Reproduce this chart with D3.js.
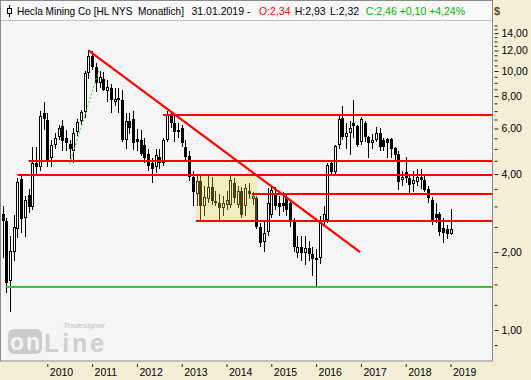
<!DOCTYPE html>
<html>
<head>
<meta charset="utf-8">
<script src="https://cdn.jsdelivr.net/npm/d3@7/dist/d3.min.js"></script>
<style>
  body { margin: 0; background: #f5eed6; }
  svg { display: block; font-family: "Liberation Sans", Arial, sans-serif; }
  .pre { white-space: pre; }
</style>
</head>
<body>
<svg id="chart" width="531" height="380"></svg>
<script>
// monthly candles, Jan 2009 .. Jan 2019 (index 0 = Jan 2009)
var opens = [2.80,2.64,1.54,2.00,2.45,3.83,2.71,3.32,2.98,4.42,4.25,6.90,
  6.45,4.60,5.20,5.57,6.13,5.50,5.22,4.90,5.83,6.40,6.95,9.80,
  11.45,10.40,9.00,9.30,8.40,8.60,7.60,7.90,7.70,5.42,6.40,6.50,
  5.45,5.42,5.18,4.80,4.40,4.27,4.67,4.40,5.42,6.76,6.28,5.90,
  6.03,5.10,4.68,3.90,3.35,3.75,3.00,3.20,3.55,3.15,3.10,2.95,
  3.04,3.04,3.70,3.05,3.45,3.00,3.45,3.20,3.22,2.50,2.19,2.39,
  2.78,3.35,3.10,3.08,3.26,3.09,2.66,1.98,2.10,1.98,2.07,1.96,
  1.90,1.89,2.64,2.65,4.42,4.09,5.20,6.60,5.57,5.75,6.30,6.13,
  5.33,6.28,5.55,5.28,5.42,5.74,5.40,5.45,5.45,5.03,4.80,3.79,
  4.09,3.85,3.65,3.74,3.88,3.81,3.49,3.19,2.80,2.80,2.47,2.45,
  2.34];
var highs = [3.00,2.70,2.31,2.78,3.85,3.95,3.28,3.50,5.10,5.10,7.00,7.60,
  6.90,5.40,5.75,6.20,6.45,5.90,5.40,6.00,6.50,7.10,10.00,12.00,
  11.95,10.70,10.00,9.90,9.20,8.90,8.60,8.60,8.45,6.90,6.90,7.00,
  5.95,5.90,5.50,5.00,4.60,5.00,5.00,5.50,7.00,7.00,6.70,6.30,
  6.20,5.40,4.90,4.10,3.93,3.93,3.60,3.93,3.90,3.45,3.35,3.30,
  3.45,3.93,3.85,3.60,3.55,3.65,3.70,3.40,3.30,2.60,2.66,3.52,
  3.60,3.55,3.30,3.40,3.35,3.15,2.70,2.30,2.30,2.30,2.20,2.10,
  2.05,2.75,3.00,4.40,4.50,5.20,6.70,7.33,6.30,6.40,7.72,6.20,
  6.65,6.40,5.60,5.70,6.10,6.00,5.50,5.50,5.50,5.10,4.90,4.10,
  4.67,3.95,4.10,4.20,4.20,3.95,3.60,3.25,3.10,2.85,2.70,2.55,
  2.93];
var lows = [1.90,1.39,1.17,1.85,2.26,2.37,2.28,2.83,2.90,3.95,4.10,5.90,
  4.27,4.27,5.00,5.40,4.92,4.90,4.57,4.40,5.60,6.20,6.60,9.30,
  10.10,8.30,8.60,8.40,7.60,6.90,7.30,6.90,5.30,5.00,5.70,4.96,
  4.90,4.70,4.40,4.10,3.70,4.05,4.20,4.30,5.30,6.00,5.30,5.50,
  5.10,4.50,3.75,3.00,3.00,2.65,2.75,3.10,3.05,3.00,2.66,2.75,
  2.90,2.95,3.10,2.95,2.70,2.75,3.20,3.05,2.45,2.10,2.00,2.30,
  2.70,2.90,2.75,2.85,2.75,2.50,2.00,1.90,1.85,1.78,1.85,1.62,
  1.45,1.80,2.55,2.60,3.95,3.95,5.00,5.40,5.00,4.75,5.50,5.10,
  5.20,5.30,4.60,5.00,5.30,4.90,4.90,4.60,4.60,4.50,3.47,3.60,
  3.70,3.37,3.40,3.60,3.50,3.40,3.10,2.55,2.60,2.30,2.17,2.25,
  2.32];
var closes = [2.64,1.52,2.01,2.50,3.73,2.69,3.18,2.98,4.42,4.25,6.68,6.50,
  4.55,5.20,5.50,6.00,5.38,5.25,4.98,5.74,6.35,6.95,9.80,11.45,
  10.40,9.00,9.50,8.45,8.70,7.70,7.80,7.70,5.42,6.40,6.05,5.27,
  5.30,4.80,4.60,4.30,4.20,4.74,4.40,5.42,6.76,6.28,5.83,5.83,
  5.27,4.67,3.90,3.42,3.75,3.00,3.27,3.55,3.15,3.10,2.95,3.08,
  3.19,3.79,3.23,3.45,2.78,3.52,3.35,3.29,2.50,2.17,2.37,3.08,
  3.47,3.02,2.98,3.02,2.90,2.66,2.10,2.09,1.98,2.07,1.96,1.88,
  1.86,2.58,2.80,4.33,4.09,5.13,6.50,5.57,5.74,6.00,6.13,5.20,
  6.50,5.57,5.28,5.42,5.78,5.08,5.08,5.28,4.98,4.73,3.74,3.88,
  3.85,3.63,3.80,3.88,3.78,3.47,3.22,2.66,2.70,2.40,2.37,2.35,
  2.46];

var years = [2010, 2011, 2012, 2013, 2014, 2015, 2016, 2017, 2018, 2019];
var priceTicks = [1, 2, 4, 6, 8, 10, 12, 14];
var minorTicks = [0.875, 1.25, 1.5, 1.75, 2.5, 3, 3.5, 4.5, 5, 5.5, 6.5, 7, 7.5,
  8.5, 9, 9.5, 10.5, 11, 11.5, 12.5, 13, 13.5, 14.5, 15];

// drawing tools (month index, price)
var resistLevels = [6.76, 4.51, 3.98, 3.36, 2.64];
var resistStart = [43, 7, 4, 66.8, 51.8];
var supportLevel = 1.47, supportStart = 1;
var downTrend = [[23.1, 11.98], [95.8, 2.0]];
var upTrend = [[18, 4.37], [25.9, 10.15]];
var rangeBox = {from: 51.8, to: 68.2, low: 2.64, high: 3.98};

var svg = d3.select("#chart");
var plotRight = 492.5, plotTop = 20.5, plotBottom = 361;

var x = d3.scaleLinear().domain([0, 120]).range([2.5, 450.5]);
var y = d3.scaleLog().domain([1, 10]).range([330, 71]);

var de = d3.formatLocale({decimal: ",", thousands: ".", grouping: [3], currency: ["", ""]});
var fmt = de.format(".2f");

// plot frame
svg.append("rect")
    .attr("x", 0.5).attr("y", 0.5)
    .attr("width", plotRight - 0.5).attr("height", plotBottom - 0.5)
    .attr("fill", "#f5f5f5").attr("stroke", "#8a8a8a");

svg.append("defs").append("clipPath").attr("id", "clip")
    .append("rect").attr("x", 1).attr("y", plotTop + 0.5)
    .attr("width", plotRight - 1).attr("height", plotBottom - plotTop - 1);

var g = svg.append("g").attr("clip-path", "url(#clip)");

// watermark
var wm = g.append("g");
wm.append("text").attr("x", 63).attr("y", 328)
    .attr("font-size", "8px").attr("font-style", "italic").attr("fill", "#c2c2c2")
    .text("Tradesignal");
wm.append("rect").attr("x", 8).attr("y", 329).attr("width", 34).attr("height", 25)
    .attr("rx", 6).attr("fill", "#cbcbcb");
wm.append("text").attr("x", 10).attr("y", 350).attr("textLength", 30)
    .attr("font-size", "23px").attr("font-weight", "bold").attr("fill", "#f3f3f3")
    .text("on");
wm.append("text").attr("x", 44).attr("y", 352).attr("textLength", 60)
    .attr("font-size", "25px").attr("font-weight", "bold").attr("fill", "#d0d0d0")
    .text("Line");

// candles
var idx = d3.range(closes.length);
function cx(i) { return Math.round(x(i)) + 0.5; }

g.append("g").selectAll("line")
    .data(idx).enter().append("line")
    .attr("x1", cx).attr("x2", cx)
    .attr("y1", function (i) { return Math.round(y(highs[i])); })
    .attr("y2", function (i) { return Math.round(y(lows[i])); })
    .attr("stroke", "#000").attr("stroke-width", 1);

g.append("g").selectAll("rect")
    .data(idx.filter(function (i) { return closes[i] < opens[i]; }))
    .enter().append("rect")
    .attr("x", function (i) { return cx(i) - 1.5; })
    .attr("y", function (i) { return Math.round(y(opens[i])); })
    .attr("width", 3)
    .attr("height", function (i) {
        return Math.max(1, Math.round(y(closes[i])) - Math.round(y(opens[i])));
    })
    .attr("fill", "#000");

g.append("g").selectAll("rect")
    .data(idx.filter(function (i) { return closes[i] >= opens[i]; }))
    .enter().append("rect")
    .attr("x", function (i) { return cx(i) - 1; })
    .attr("y", function (i) { return Math.round(y(closes[i])) + 0.5; })
    .attr("width", 2)
    .attr("height", function (i) {
        return Math.max(1, Math.round(y(opens[i])) - Math.round(y(closes[i])) - 1);
    })
    .attr("fill", "#fff").attr("stroke", "#000").attr("stroke-width", 1);

// consolidation box (drawn over candles, translucent)
g.append("rect")
    .attr("x", x(rangeBox.from))
    .attr("y", y(rangeBox.high))
    .attr("width", x(rangeBox.to) - x(rangeBox.from))
    .attr("height", y(rangeBox.low) - y(rangeBox.high))
    .attr("fill", "#f0dc3c").attr("fill-opacity", 0.3);

// horizontal levels
g.append("g").selectAll("line")
    .data(resistLevels).enter().append("line")
    .attr("x1", function (d, k) { return x(resistStart[k]); })
    .attr("x2", plotRight)
    .attr("y1", function (d) { return Math.round(y(d)); })
    .attr("y2", function (d) { return Math.round(y(d)); })
    .attr("stroke", "#ff0000").attr("stroke-width", 2);

g.append("line")
    .attr("x1", x(supportStart)).attr("x2", plotRight)
    .attr("y1", Math.round(y(supportLevel))).attr("y2", Math.round(y(supportLevel)))
    .attr("stroke", "#33cc33").attr("stroke-width", 2);

var trendLine = d3.line()
    .x(function (d) { return x(d[0]); })
    .y(function (d) { return y(d[1]); });

g.append("path").attr("d", trendLine(downTrend))
    .attr("fill", "none").attr("stroke", "#ff0000").attr("stroke-width", 2.2);

g.append("path").attr("d", trendLine(upTrend))
    .attr("fill", "none").attr("stroke", "#33cc33").attr("stroke-width", 1)
    .attr("stroke-dasharray", "2,2");

// title bar
svg.append("line").attr("x1", 0).attr("x2", plotRight)
    .attr("y1", plotTop).attr("y2", plotTop).attr("stroke", "#8a8a8a");
svg.append("rect").attr("x", 1).attr("y", 1).attr("width", plotRight - 1.5).attr("height", plotTop - 1)
    .attr("fill", "#f8f8f8");

var icon = svg.append("g").attr("stroke", "#000").attr("fill", "#fff");
icon.append("line").attr("x1", 9.5).attr("x2", 9.5).attr("y1", 5).attr("y2", 17);
icon.append("rect").attr("x", 7.5).attr("y", 8.5).attr("width", 4).attr("height", 5);

var title = svg.append("g").attr("font-size", "10.5px");
title.append("text").attr("class", "pre").attr("xml:space", "preserve")
    .attr("x", 17).attr("y", 14.5).attr("fill", "#000")
    .attr("textLength", 167).attr("lengthAdjust", "spacingAndGlyphs")
    .text("Hecla Mining Co [HL NYS\u00a0 Monatlich]");
title.append("text").attr("x", 191.5).attr("y", 14.5).attr("fill", "#000")
    .text("31.01.2019 -");
title.append("text").attr("x", 259).attr("y", 14.5).attr("fill", "#ff0000")
    .text("O:2,34");
title.append("text").attr("x", 294.7).attr("y", 14.5).attr("fill", "#000")
    .text("H:2,93");
title.append("text").attr("x", 330).attr("y", 14.5).attr("fill", "#000")
    .text("L:2,32");
title.append("text").attr("x", 365.8).attr("y", 14.5).attr("fill", "#00b400")
    .text("C:2,46 +0,10 +4,24%");

svg.append("text").attr("x", 494).attr("y", 14.5)
    .attr("font-size", "11px").attr("font-weight", "bold").attr("fill", "#5a4a20")
    .text("$");

// right price axis
var yMinor = svg.append("g")
    .attr("transform", "translate(494.5,0)")
    .call(d3.axisRight(y).tickValues(minorTicks).tickSize(3).tickFormat(""));
yMinor.select(".domain").remove();
yMinor.selectAll(".tick line").attr("stroke", "#222");

var yAxis = svg.append("g")
    .attr("transform", "translate(494.5,0)")
    .call(d3.axisRight(y).tickValues(priceTicks).tickSize(4).tickPadding(3).tickFormat(fmt));
yAxis.select(".domain").remove();
yAxis.selectAll(".tick line").attr("stroke", "#222");
yAxis.selectAll(".tick text")
    .attr("font-family", "Liberation Sans, Arial, sans-serif")
    .attr("font-size", "10.5px").attr("fill", "#000");

// bottom year axis
var xAxis = svg.append("g")
    .attr("transform", "translate(0,364)")
    .call(d3.axisBottom(x)
        .tickValues(years.map(function (yr) { return (yr - 2009) * 12; }))
        .tickSize(3)
        .tickFormat(function (d, k) { return years[k]; }));
xAxis.select(".domain").remove();
xAxis.selectAll(".tick line").attr("stroke", "#222");
xAxis.selectAll(".tick text")
    .attr("text-anchor", "start").attr("x", 2).attr("y", 4.5)
    .attr("font-family", "Liberation Sans, Arial, sans-serif")
    .attr("font-size", "10.5px").attr("fill", "#000");
</script>
</body>
</html>
